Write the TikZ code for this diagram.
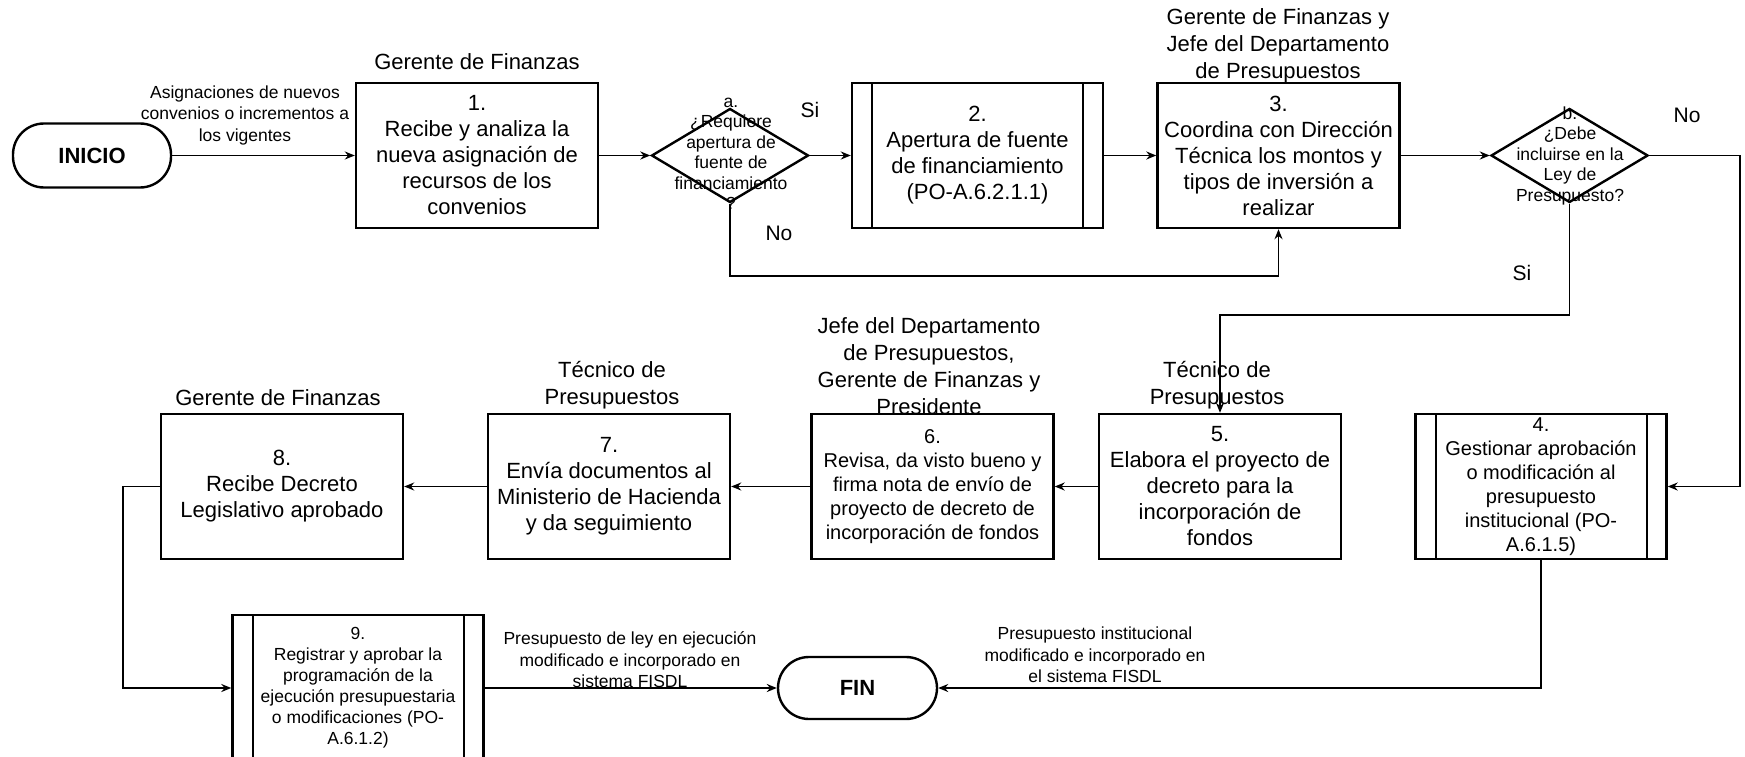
\documentclass[tikz,border=0pt]{standalone}
\usepackage{fontspec}
\setmainfont{Liberation Sans}
\usetikzlibrary{shapes.geometric,arrows.meta}
\tikzset{
 box/.style={draw, line width=2.4pt, minimum width=242pt, minimum height=145pt, inner sep=0pt, align=center, font=\fontsize{22}{26}\selectfont},
 subproc/.style={box, minimum width=251pt, path picture={
   \draw[line width=2pt] ([xshift=20pt]path picture bounding box.north west) -- ([xshift=20pt]path picture bounding box.south west);
   \draw[line width=2pt] ([xshift=-20pt]path picture bounding box.north east) -- ([xshift=-20pt]path picture bounding box.south east);}},
 term/.style={draw, line width=2.4pt, rounded corners=31pt, minimum width=158pt, minimum height=64pt, inner sep=0pt, font=\fontsize{22}{26}\selectfont\bfseries},
 decision/.style={draw, diamond, line width=2.4pt, minimum width=157pt, minimum height=94pt, inner sep=0pt},
 dtext/.style={align=center, inner sep=0pt, font=\fontsize{17.5}{20.5}\selectfont},
 role/.style={align=center, inner sep=0pt, font=\fontsize{22}{27}\selectfont},
 elabel/.style={align=center, inner sep=0pt, font=\fontsize{17.5}{21.5}\selectfont},
 yn/.style={inner sep=0pt, font=\fontsize{21}{25}\selectfont},
 conn/.style={line width=1.8pt, -{Stealth[length=10pt,width=8pt]}},
}
\begin{document}
\begin{tikzpicture}[x=1pt,y=-1pt]
\useasboundingbox (0,0) rectangle (1745,757);
% nodes
\node[term] (ini) at (92,155.5) {INICIO};
\node[box] (b1) at (477,155.5) {1.\\Recibe y analiza la\\nueva asignación de\\recursos de los\\convenios};
\node[decision] (da) at (730,155.5) {};
\node[dtext] (dat) at (731,154) {a.\\¿Requiere\\apertura de\\fuente de\\financiamiento\\?};
\node[subproc] (b2) at (977.5,155.5) {2.\\Apertura de fuente\\de financiamiento\\(PO-A.6.2.1.1)};
\node[box] (b3) at (1278.5,155.5) {3.\\Coordina con Dirección\\Técnica los montos y\\tipos de inversión a\\realizar};
\node[decision] (db) at (1569.5,155.5) {};
\node[dtext] (dbt) at (1570,155.5) {b.\\¿Debe\\incluirse en la\\Ley de\\Presupuesto?};
\node[subproc, font=\fontsize{20}{24}\selectfont] (b4) at (1541,486.5) {4.\\Gestionar aprobación\\o modificación al\\presupuesto\\institucional (PO-\\A.6.1.5)};
\node[box] (b5) at (1220,486.5) {5.\\Elabora el proyecto de\\decreto para la\\incorporación de\\fondos};
\node[box, font=\fontsize{20}{24}\selectfont] (b6) at (932.5,486.5) {6.\\Revisa, da visto bueno y\\firma nota de envío de\\proyecto de decreto de\\incorporación de fondos};
\node[box] (b7) at (609,486.5) {7.\\Envía documentos al\\Ministerio de Hacienda\\y da seguimiento};
\node[box] (b8) at (282,486.5) {8.\\Recibe Decreto\\Legislativo aprobado};
\node[subproc, minimum height=146pt, font=\fontsize{17.5}{21}\selectfont] (b9) at (358,688) {9.\\Registrar y aprobar la\\programación de la\\ejecución presupuestaria\\o modificaciones (PO-\\A.6.1.2)};
\node[term, minimum width=159pt, minimum height=62pt] (fin) at (857.5,688) {FIN};
% role labels
\node[role] (r1) at (477,62) {Gerente de Finanzas};
\node[role] (r3) at (1278,46) {Gerente de Finanzas y\\Jefe del Departamento\\de Presupuestos};
\node[role] (r6) at (929,366) {Jefe del Departamento\\de Presupuestos,\\Gerente de Finanzas y\\Presidente};
\node[role] (r5) at (1217,385) {Técnico de\\Presupuestos};
\node[role] (r7) at (612,385) {Técnico de\\Presupuestos};
\node[role] (r8) at (278,398) {Gerente de Finanzas};
% edge labels
\node[elabel] (l1) at (245,115) {Asignaciones de nuevos\\convenios o incrementos a\\los vigentes};
\node[elabel] (l2) at (630,660) {Presupuesto de ley en ejecución\\modificado e incorporado en\\sistema FISDL};
\node[elabel] (l3) at (1095,655) {Presupuesto institucional\\modificado e incorporado en\\el sistema FISDL};
\node[yn] (si1) at (810,110) {Si};
\node[yn] (no1) at (779,233) {No};
\node[yn] (no2) at (1687,115) {No};
\node[yn] (si2) at (1522,273) {Si};
% bend points
\coordinate (pa) at (730,276);
\coordinate (pb1) at (1740,155.5);
\coordinate (pb2) at (1569.5,315);
\coordinate (p8) at (123,486.5);
% connectors
\draw[conn] (ini.east) -- (b1.west);
\draw[conn] (b1.east) -- (da.west);
\draw[conn] (da.east) -- (b2.west);
\draw[conn] (b2.east) -- (b3.west);
\draw[conn] (da.south) -- (pa) -| (b3.south);
\draw[conn] (b3.east) -- (db.west);
\draw[conn] (db.east) -- (pb1) |- (b4.east);
\draw[conn] (db.south) -- (pb2) -| (b5.north);
\draw[conn] (b5.west) -- (b6.east);
\draw[conn] (b6.west) -- (b7.east);
\draw[conn] (b7.west) -- (b8.east);
\draw[conn] (b8.west) -- (p8) |- (b9.west);
\draw[conn] (b9.east) -- (fin.west);
\draw[conn] (b4.south) |- (fin.east);
\end{tikzpicture}
\end{document}
